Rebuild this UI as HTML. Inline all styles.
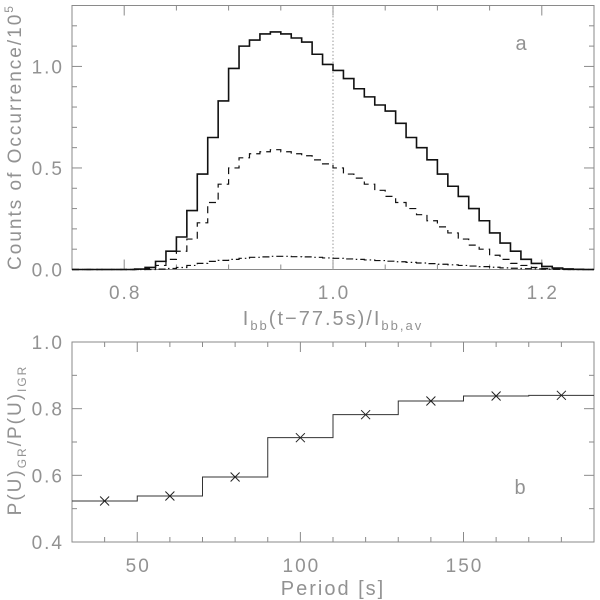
<!DOCTYPE html>
<html><head><meta charset="utf-8"><style>
body{margin:0;background:#fff}
svg{display:block}
text{font-family:"Liberation Sans",sans-serif;fill:#929292;letter-spacing:2px}
</style></head><body>
<svg id="c" width="600" height="600" viewBox="0 0 600 600"></svg>
<script>
const binLefts=[0.80,0.81,0.82,0.83,0.84,0.85,0.86,0.87,0.88,0.89,0.90,0.91,0.92,0.93,0.94,0.95,0.96,0.97,0.98,0.99,1.00,1.01,1.02,1.03,1.04,1.05,1.06,1.07,1.08,1.09,1.10,1.11,1.12,1.13,1.14,1.15,1.16,1.17,1.18,1.19,1.20,1.21,1.22,1.23];
const solidVals=[0.0,0.002,0.01,0.04,0.09,0.16,0.29,0.47,0.65,0.83,0.99,1.10,1.13,1.16,1.17,1.16,1.14,1.12,1.06,1.01,0.98,0.94,0.89,0.85,0.81,0.78,0.72,0.65,0.60,0.54,0.47,0.41,0.36,0.30,0.24,0.18,0.13,0.09,0.05,0.03,0.015,0.007,0.003,0.001];
const dashedVals=[0.0,0.0,0.005,0.02,0.05,0.09,0.15,0.23,0.33,0.42,0.50,0.55,0.57,0.58,0.59,0.58,0.57,0.56,0.54,0.52,0.50,0.47,0.45,0.42,0.39,0.36,0.33,0.30,0.27,0.24,0.21,0.18,0.15,0.12,0.10,0.07,0.05,0.03,0.02,0.01,0.005,0.002,0.0,0.0];
const dashdotVals=[0.0,0.0,0.0,0.002,0.005,0.01,0.02,0.03,0.04,0.045,0.05,0.055,0.06,0.062,0.065,0.065,0.063,0.062,0.06,0.057,0.055,0.052,0.05,0.047,0.044,0.041,0.038,0.035,0.032,0.029,0.026,0.023,0.02,0.017,0.014,0.011,0.008,0.006,0.004,0.003,0.002,0.001,0.0,0.0];
const periods=[40,60,80,100,120,140,160,180];
const ratioVals=[0.523,0.538,0.595,0.713,0.782,0.823,0.838,0.840];
const topXTicks=["0.8","1.0","1.2"];
const topYTicks=["0.0","0.5","1.0"];
const botXTicks=["50","100","150"];
const botYTicks=["0.4","0.6","0.8","1.0"];

const svg=document.getElementById('c');
const NS='http://www.w3.org/2000/svg';
function mk(tag,attrs,parent){const e=document.createElementNS(NS,tag);for(const k in attrs)e.setAttribute(k,attrs[k]);(parent||svg).appendChild(e);return e;}
const L=72,R=594;
const xa=v=>L+(v-0.75)/0.5*(R-L);
const T1=5.5,B1=269.5;
const ya=v=>B1-v/1.3*(B1-T1);
const T2=342,B2=542;
const xb=v=>L+(v-30)/160*(R-L);
const yb=v=>B2-(v-0.4)/0.6*(B2-T2);
const gray='#8a8a8a';

// panel a
const ga=mk('g',{});
let f=mk('rect',{x:L,y:T1,width:R-L,height:B1-T1,fill:'none',stroke:gray,'stroke-width':1},ga);

for(let i=0;i<=10;i++){const v=0.75+i*0.05;const maj=Math.abs(v-0.8)<1e-6||Math.abs(v-1.0)<1e-6||Math.abs(v-1.2)<1e-6;const len=maj?10:5;
 mk('line',{x1:xa(v),x2:xa(v),y1:B1,y2:B1-len,stroke:gray},ga);mk('line',{x1:xa(v),x2:xa(v),y1:T1,y2:T1+len,stroke:gray},ga);}
for(let i=0;i<=13;i++){const v=i*0.1;const len=(i%5==0)?10:5;
 mk('line',{x1:L,x2:L+len,y1:ya(v),y2:ya(v),stroke:gray},ga);mk('line',{x1:R,x2:R-len,y1:ya(v),y2:ya(v),stroke:gray},ga);}
topXTicks.forEach(s=>{const t=mk('text',{x:xa(+s)+1,y:299,'text-anchor':'middle','font-size':19},ga);t.textContent=s;});
topYTicks.forEach(s=>{const t=mk('text',{x:L-8,y:ya(+s)+7,'text-anchor':'end','font-size':19},ga);t.textContent=s;});
let vl=mk('line',{x1:xa(1.0),x2:xa(1.0),y1:T1,y2:B1,stroke:'#999','stroke-dasharray':'1.5,2'},ga);

function stepPath(vals,lefts,w,fx,fy){let d='M'+xa(0.75)+','+fy(0);d+=' L'+fx(lefts[0])+','+fy(0);
 for(let i=0;i<vals.length;i++){d+=' L'+fx(lefts[i])+','+fy(vals[i])+' L'+fx(lefts[i]+w)+','+fy(vals[i]);}
 d+=' L'+fx(lefts[lefts.length-1]+w)+','+fy(0)+' L'+xa(1.25)+','+fy(0);return d;}
let p=mk('path',{d:stepPath(solidVals,binLefts,0.01,xa,ya),fill:'none',stroke:'#111','stroke-width':1.6},ga);

p=mk('path',{d:stepPath(dashedVals,binLefts,0.01,xa,ya),fill:'none',stroke:'#111','stroke-width':1.2,'stroke-dasharray':'7,5'},ga);

p=mk('path',{d:stepPath(dashdotVals,binLefts,0.01,xa,ya),fill:'none',stroke:'#111','stroke-width':1.2,'stroke-dasharray':'7,3,1.5,3'},ga);

let t=mk('text',{x:522,y:50,'text-anchor':'middle','font-size':20},ga);t.textContent='a';

t=mk('text',{x:333,y:325,'text-anchor':'middle','font-size':20},ga);
t.innerHTML='I<tspan font-size="13" dy="5">bb</tspan><tspan dy="-5">(t−77.5s)/I</tspan><tspan font-size="13" dy="5">bb,av</tspan>';

t=mk('text',{x:0,y:0,'text-anchor':'middle','font-size':19,'letter-spacing':'2.6',transform:'translate(21,137) rotate(-90)'},ga);
t.innerHTML='Counts of Occurrence/10<tspan font-size="12" dy="-8">5</tspan>';


// panel b
const gb=mk('g',{});
f=mk('rect',{x:L,y:T2,width:R-L,height:B2-T2,fill:'none',stroke:gray},gb);

for(let v=30;v<=190;v+=10){const len=(v%50==0)?10:5;
 mk('line',{x1:xb(v),x2:xb(v),y1:B2,y2:B2-len,stroke:gray},gb);mk('line',{x1:xb(v),x2:xb(v),y1:T2,y2:T2+len,stroke:gray},gb);}
for(let i=0;i<=6;i++){const v=0.4+i*0.1;const len=(i%2==0)?10:5;
 mk('line',{x1:L,x2:L+len,y1:yb(v),y2:yb(v),stroke:gray},gb);mk('line',{x1:R,x2:R-len,y1:yb(v),y2:yb(v),stroke:gray},gb);}
botXTicks.forEach(s=>{const t=mk('text',{x:xb(+s)+1,y:572,'text-anchor':'middle','font-size':19},gb);t.textContent=s;});
botYTicks.forEach(s=>{const t=mk('text',{x:L-8,y:yb(+s)+7,'text-anchor':'end','font-size':19},gb);t.textContent=s;});
let d='';periods.forEach((pp,i)=>{const y=yb(ratioVals[i]);d+=(i==0?'M':' L')+xb(pp-10)+','+y+' L'+xb(pp+10)+','+y;});
p=mk('path',{d:d,fill:'none',stroke:'#333','stroke-width':1},gb);

periods.forEach((pp,i)=>{const cx=xb(pp),cy=yb(ratioVals[i]),s=4.5;
 const m=mk('path',{d:`M${cx-s},${cy-s} L${cx+s},${cy+s} M${cx-s},${cy+s} L${cx+s},${cy-s}`,stroke:'#222','stroke-width':1},gb);
 });
t=mk('text',{x:521,y:494,'text-anchor':'middle','font-size':20},gb);t.textContent='b';

t=mk('text',{x:333,y:595,'text-anchor':'middle','font-size':20,'letter-spacing':'3'},gb);t.textContent='Period [s]';

t=mk('text',{x:0,y:0,'text-anchor':'middle','font-size':19,transform:'translate(21,440) rotate(-90)'},gb);
t.innerHTML='P(U)<tspan font-size="12" dy="5">GR</tspan><tspan dy="-5">/P(U)</tspan><tspan font-size="12" dy="5">IGR</tspan>';

</script>
</body></html>
